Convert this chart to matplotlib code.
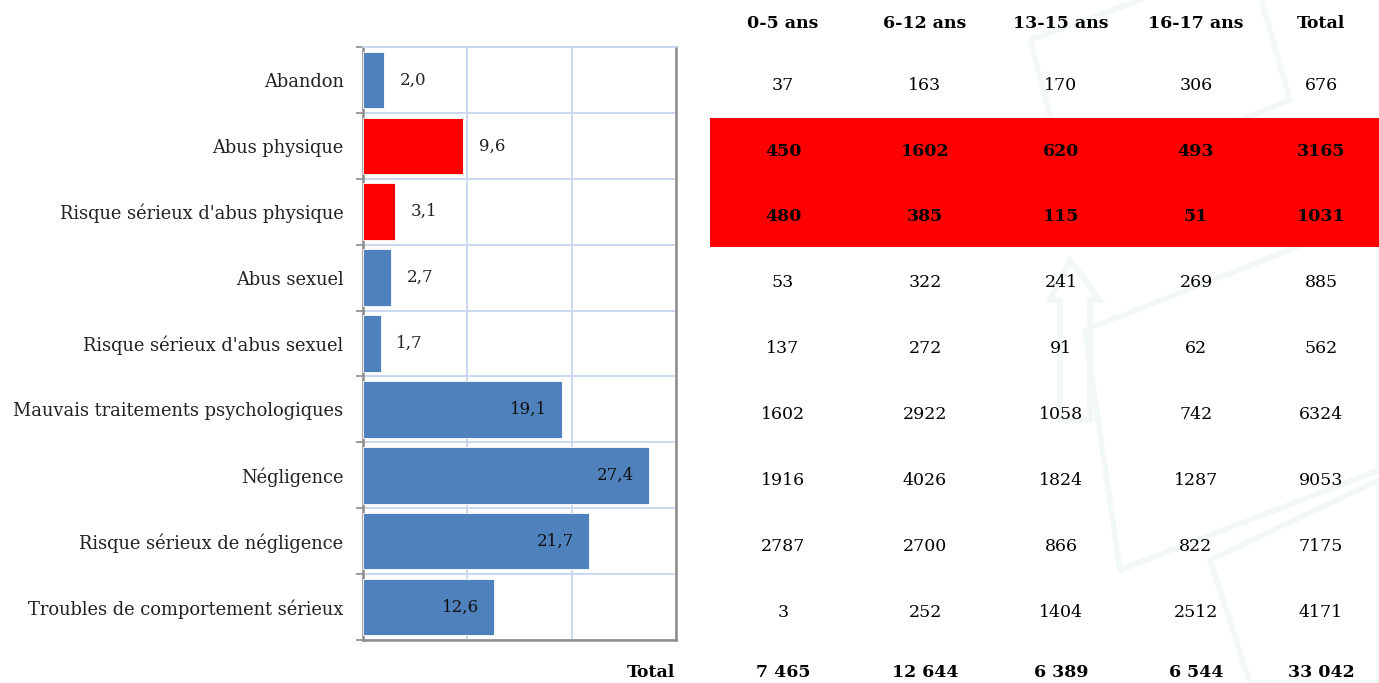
import matplotlib
matplotlib.use("Agg")
import matplotlib.pyplot as plt
import matplotlib.transforms as mtransforms
from matplotlib.patches import Rectangle, Polygon

categories = ["Abandon", "Abus physique", "Risque sérieux d'abus physique", "Abus sexuel",
              "Risque sérieux d'abus sexuel", "Mauvais traitements psychologiques",
              "Négligence", "Risque sérieux de négligence", "Troubles de comportement sérieux"]
percent = [2.0, 9.6, 3.1, 2.7, 1.7, 19.1, 27.4, 21.7, 12.6]
highlight = [False, True, True, False, False, False, False, False, False]

col_headers = ["0-5 ans", "6-12 ans", "13-15 ans", "16-17 ans", "Total"]
age_0_5 = [37, 450, 480, 53, 137, 1602, 1916, 2787, 3]
age_6_12 = [163, 1602, 385, 322, 272, 2922, 4026, 2700, 252]
age_13_15 = [170, 620, 115, 241, 91, 1058, 1824, 866, 1404]
age_16_17 = [306, 493, 51, 269, 62, 742, 1287, 822, 2512]
row_total = [676, 3165, 1031, 885, 562, 6324, 9053, 7175, 4171]
col_totals = ["7 465", "12 644", "6 389", "6 544", "33 042"]

BLUE = "#4F81BD"
RED = "#FF0000"
GRID = "#C5D5EE"
SPINE = "#8C8C8C"
FONT = "DejaVu Serif"

W, H = 1379, 683
fig = plt.figure(figsize=(W / 100, H / 100), dpi=100)
fig.patch.set_facecolor("white")

# faint background watermark shapes (decorative)
bg = fig.add_axes([0, 0, 1, 1], zorder=-10)
bg.set_xlim(0, W)
bg.set_ylim(H, 0)
bg.axis("off")
wm = "#F1F8F7"
for pts in [
    [(1030, 40), (1250, -40), (1290, 100), (1070, 190)],
    [(1085, 330), (1379, 215), (1379, 470), (1120, 570)],
    [(1210, 560), (1379, 480), (1379, 683), (1250, 683)],
    [(1050, 300), (1070, 260), (1100, 300), (1090, 300), (1090, 420), (1060, 420), (1060, 300)],
]:
    bg.add_patch(Polygon(pts, closed=True, fill=False, edgecolor=wm, lw=4))

ax = fig.add_axes([363 / W, 1 - 640 / H, 313 / W, 593 / H], zorder=1)
ypos = list(range(len(categories)))
colors = [RED if h else BLUE for h in highlight]
ax.barh(ypos, percent, height=0.86, color=colors, edgecolor="white", linewidth=0.6, zorder=3)
ax.set_xlim(0, 30)
ax.set_ylim(len(categories) - 0.5, -0.5)
ax.set_xticks([0, 10, 20, 30])
ax.set_xticklabels([])
ax.tick_params(axis="x", length=0)
ax.set_yticks([i - 0.5 for i in range(len(categories) + 1)], minor=False)
ax.set_yticklabels([])
ax.tick_params(axis="y", which="major", length=5, color=SPINE, width=1.2, direction="out")
ax.set_yticks(ypos, minor=True)
ax.set_yticklabels(categories, minor=True, fontsize=12.9, family=FONT, color="#222222")
ax.tick_params(axis="y", which="minor", length=0, pad=14)
ax.grid(True, which="major", color=GRID, lw=1.3, zorder=0)
for s in ["left", "right", "bottom"]:
    ax.spines[s].set_color(SPINE)
    ax.spines[s].set_linewidth(1.8)
ax.spines["top"].set_color(GRID)
ax.spines["top"].set_linewidth(1.3)

for i, v in enumerate(percent):
    lab = f"{v:.1f}".replace(".", ",")
    if v < 10:
        ax.annotate(lab, (v, i), xytext=(29, 0), textcoords="offset pixels",
                    ha="center", va="center", fontsize=12, family=FONT, color="#222222", zorder=4)
    else:
        ax.annotate(lab, (v, i), xytext=(-15, 0), textcoords="offset pixels",
                    ha="right", va="center", fontsize=12, family=FONT, color="#111111", zorder=4)

# table
tr = mtransforms.blended_transform_factory(fig.transFigure, ax.transData)
off = 0.08
ax.add_patch(Rectangle((710 / W, 0.5 + 0.07), 1 - 710 / W + 0.01, 1.96, transform=tr,
                       facecolor=RED, edgecolor="none", clip_on=False, zorder=1))
col_x = [783, 925, 1061, 1196, 1321]
columns = [age_0_5, age_6_12, age_13_15, age_16_17, row_total]
for cx, head in zip(col_x, col_headers):
    ax.text(cx / W, -0.86, head, transform=tr, ha="center", va="center", fontsize=12.5,
            fontweight="bold", family=FONT, clip_on=False)
for cx, col in zip(col_x, columns):
    for i, val in enumerate(col):
        ax.text(cx / W, i + off, str(val), transform=tr, ha="center", va="center", fontsize=12.5,
                fontweight="bold" if highlight[i] else "normal", family=FONT, clip_on=False,
                zorder=2)
ax.text(651 / W, len(categories) + 0.0, "Total", transform=tr, ha="center", va="center",
        fontsize=12.5, fontweight="bold", family=FONT, clip_on=False)
for cx, t in zip(col_x, col_totals):
    ax.text(cx / W, len(categories) + 0.0, t, transform=tr, ha="center", va="center",
            fontsize=12.5, fontweight="bold", family=FONT, clip_on=False)

fig.savefig("out.png", dpi=100, facecolor="white")
